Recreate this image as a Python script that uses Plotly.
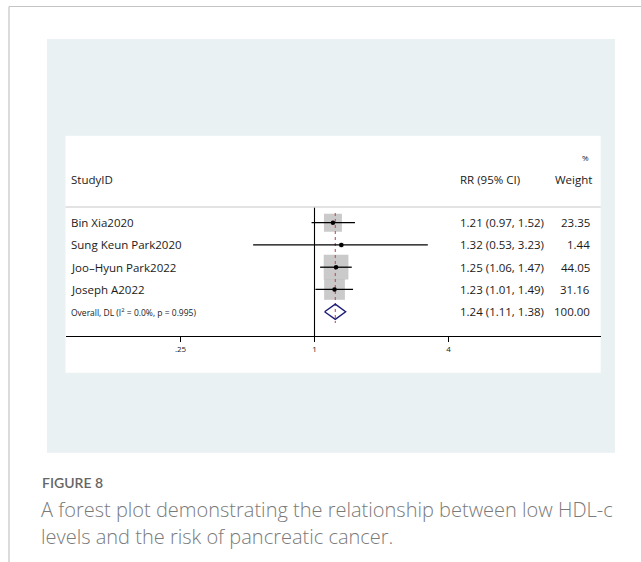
import math
import plotly.graph_objects as go

# Study-level relative risks with 95% confidence intervals and random-effects weights
studies = ["Bin Xia2020", "Sung Keun Park2020", "Joo\u2013Hyun Park2022", "Joseph A2022"]
rr = [1.21, 1.32, 1.25, 1.23]
ci_low = [0.97, 0.53, 1.06, 1.01]
ci_high = [1.52, 3.23, 1.47, 1.49]
weights = [23.35, 1.44, 44.05, 31.16]

# Pooled estimate (DerSimonian-Laird)
overall_label = "Overall, DL (I<sup>2</sup> = 0.0%, p = 0.995)"
overall_rr = 1.24
overall_low = 1.11
overall_high = 1.38
overall_weight = 100.00

tick_values = [0.25, 1, 4]
tick_labels = [".25", "1", "4"]

W, H = 641, 562
FONT = "Open Sans"


def px(x):
    return x / W


def py(y):
    return 1 - y / H


# rows from top to bottom
row_y = [5, 4, 3, 2]
overall_y = 1

fig = go.Figure()

# confidence interval whiskers
xs, ys = [], []
for lo, hi, y in zip(ci_low, ci_high, row_y):
    xs += [lo, hi, None]
    ys += [y, y, None]

# weight boxes (area proportional to weight)
fig.add_trace(go.Scatter(
    x=rr, y=row_y, mode="markers",
    marker=dict(symbol="square", size=[3.72 * math.sqrt(w) for w in weights],
                color="#b4b4b4", line=dict(width=0)),
    hoverinfo="skip", showlegend=False))

# pooled estimate reference line
fig.add_trace(go.Scatter(
    x=[overall_rr, overall_rr], y=[5.44, 0.49], mode="lines",
    line=dict(color="#c0505a", width=1.1, dash="3px,3px"),
    hoverinfo="skip", showlegend=False))

fig.add_trace(go.Scatter(
    x=xs, y=ys, mode="lines", line=dict(color="black", width=1.3),
    hoverinfo="skip", showlegend=False))

# point estimates
fig.add_trace(go.Scatter(
    x=rr, y=row_y, mode="markers",
    marker=dict(symbol="circle", size=4.5, color="black"),
    hoverinfo="skip", showlegend=False))

# null-effect line
fig.add_trace(go.Scatter(
    x=[1, 1], y=[5.71, -0.092], mode="lines",
    line=dict(color="black", width=1.1),
    hoverinfo="skip", showlegend=False))

# pooled diamond
dh = 0.34
fig.add_trace(go.Scatter(
    x=[overall_low, overall_rr, overall_high, overall_rr, overall_low],
    y=[overall_y, overall_y + dh, overall_y, overall_y - dh, overall_y],
    mode="lines", line=dict(color="#1c1c78", width=1.4),
    hoverinfo="skip", showlegend=False))

# background panels and frame
shapes = [
    dict(type="rect", xref="paper", yref="paper", x0=px(47), x1=px(615),
         y0=py(452.7), y1=py(39), fillcolor="#e9f1f3", line=dict(width=0), layer="below"),
    dict(type="rect", xref="paper", yref="paper", x0=px(65.5), x1=px(600.7),
         y0=py(372.7), y1=py(135.7), fillcolor="white", line=dict(width=0), layer="below"),
    dict(type="line", xref="paper", yref="paper", x0=px(9), x1=px(641),
         y0=py(6.5), y1=py(6.5), line=dict(color="#c4c4c4", width=1.2)),
    dict(type="line", xref="paper", yref="paper", x0=px(9), x1=px(9),
         y0=py(6.5), y1=py(562), line=dict(color="#c4c4c4", width=1.2)),
    # header separator
    dict(type="line", xref="paper", yref="y", x0=px(65.5), x1=px(600.7),
         y0=5.71, y1=5.71, line=dict(color="#dadada", width=1.5)),
]

ann = []
txt = dict(family=FONT, size=11.5, color="#1a1a1a")

ann.append(dict(x=px(69), y=6.92, xref="paper", yref="y", text="StudyID",
                xanchor="left", yanchor="middle", showarrow=False, font=txt))
ann.append(dict(x=px(457.5), y=6.92, xref="paper", yref="y", text="RR (95% CI)",
                xanchor="left", yanchor="middle", showarrow=False, font=txt))
ann.append(dict(x=px(594), y=6.92, xref="paper", yref="y", text="Weight",
                xanchor="right", yanchor="middle", showarrow=False, font=txt))
ann.append(dict(x=px(585), y=7.91, xref="paper", yref="y", text="%",
                xanchor="center", yanchor="middle", showarrow=False,
                font=dict(family=FONT, size=8, color="#1a1a1a")))

for name, r, lo, hi, w, y in zip(studies, rr, ci_low, ci_high, weights, row_y):
    ann.append(dict(x=px(69), y=y, xref="paper", yref="y", text=name,
                    xanchor="left", yanchor="middle", showarrow=False, font=txt))
    ann.append(dict(x=px(457.5), y=y, xref="paper", yref="y",
                    text=f"{r:.2f} ({lo:.2f}, {hi:.2f})",
                    xanchor="left", yanchor="middle", showarrow=False, font=txt))
    ann.append(dict(x=px(592), y=y, xref="paper", yref="y", text=f"{w:.2f}",
                    xanchor="right", yanchor="middle", showarrow=False, font=txt))

ann.append(dict(x=px(69), y=overall_y, xref="paper", yref="y", text=overall_label,
                xanchor="left", yanchor="middle", showarrow=False,
                font=dict(family=FONT, size=8.5, color="#1a1a1a")))
ann.append(dict(x=px(457.5), y=overall_y, xref="paper", yref="y",
                text=f"{overall_rr:.2f} ({overall_low:.2f}, {overall_high:.2f})",
                xanchor="left", yanchor="middle", showarrow=False, font=txt))
ann.append(dict(x=px(592), y=overall_y, xref="paper", yref="y",
                text=f"{overall_weight:.2f}",
                xanchor="right", yanchor="middle", showarrow=False, font=txt))

# figure caption
ann.append(dict(x=px(40), y=py(482), xref="paper", yref="paper", text="FIGURE 8",
                xanchor="left", yanchor="middle", showarrow=False,
                font=dict(family="Lato", size=14, color="#666666", weight=600)))
cap_font = dict(family="Open Sans", size=20, color="#7a7a7a", weight=300)
ann.append(dict(x=px(39), y=py(509), xref="paper", yref="paper",
                text="A forest plot demonstrating the relationship between low HDL-c",
                xanchor="left", yanchor="middle", showarrow=False, font=cap_font))
ann.append(dict(x=px(39), y=py(536), xref="paper", yref="paper",
                text="levels and the risk of pancreatic cancer.",
                xanchor="left", yanchor="middle", showarrow=False, font=cap_font))

# log axis: 1 sits at x=314.5 px, one factor of 4 spans 134 px
ppu = 134 / math.log10(4)
x_left = (65.5 - 314.5) / ppu
x_right = (600.7 - 314.5) / ppu

fig.update_layout(
    width=W, height=H,
    margin=dict(l=0, r=0, t=0, b=0),
    paper_bgcolor="white", plot_bgcolor="rgba(0,0,0,0)",
    shapes=shapes, annotations=ann, showlegend=False,
    xaxis=dict(type="log", range=[x_left, x_right], domain=[px(65.5), px(600.7)],
               tickvals=tick_values, ticktext=tick_labels, ticks="outside",
               ticklen=5, tickwidth=1, tickcolor="black", showline=True,
               linecolor="black", linewidth=1.1, showgrid=False, zeroline=False,
               tickfont=dict(family=FONT, size=8, color="#1a1a1a"), fixedrange=True),
    yaxis=dict(range=[-0.092, 8.91], domain=[py(336), py(135.7)], visible=False,
               showgrid=False, zeroline=False, fixedrange=True),
)

fig.write_html("out.html")
